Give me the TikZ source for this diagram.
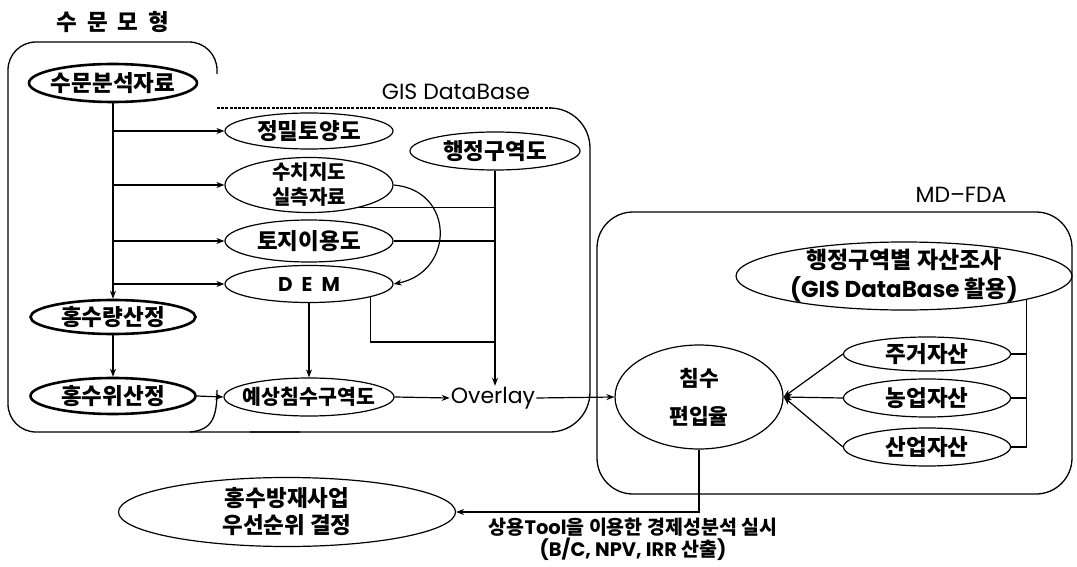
\documentclass[tikz,border=0pt]{standalone}
\usepackage{fontspec}
\usetikzlibrary{shapes.geometric,arrows.meta}
\newfontfamily\kr{Noto Sans CJK KR}
\newfontfamily\lat{Poppins}

\tikzset{
  line/.style={line width=1.2pt},
  arr/.style={line width=1.2pt,-{Stealth[length=8pt,width=6pt]}},
  oval/.style={ellipse, draw, line width=1.2pt, inner sep=0pt},
  boldoval/.style={oval, line width=2.6pt},
  frame/.style={line width=1.3pt},
  ktext/.style={font=\kr\bfseries\fontsize{22.5}{26}\selectfont, align=center, inner sep=0pt},
  ltext/.style={font=\lat\fontsize{22}{26}\selectfont, inner sep=1pt},
}

\begin{document}
\begin{tikzpicture}[x=1pt,y=-1pt]
\useasboundingbox (0,0) rectangle (1077,567);
\fill[white] (0,0) rectangle (1077,567);

% group frames
\draw[frame, rounded corners=28] (217,74) -- (217,42) -- (8,42) -- (8,432) -- (300,432);
\draw[line width=1.6pt, dash pattern=on 3pt off 1.2pt] (217,108) -- (551,108);
\draw[frame, rounded corners=40] (550,108) -- (590,108) -- (590,432) -- (250,432);
\draw[frame] (217,390) .. controls (217,418) and (212,430) .. (190,432);
\draw[frame, rounded corners=36] (597,212) rectangle (1072,494);

% group titles
\node[ktext] (title) at (113,22) {수\hspace{10pt}문\hspace{10pt}모\hspace{10pt}형};
\node[ltext] (gisT) at (456,92) {GIS DataBase};
\node[ltext] (mdT) at (961,195) {MD–FDA};

% hydrology model
\node[boldoval, minimum width=168pt, minimum height=38pt, label={[ktext]center:{수문분석자료}}] (hyd) at (113,83) {};
\node[boldoval, minimum width=165pt, minimum height=34pt, label={[ktext]center:{홍수량산정}}] (flow) at (113,317) {};
\node[boldoval, minimum width=165pt, minimum height=36pt, label={[ktext]center:{홍수위산정}}] (stage) at (113,396) {};

% GIS database layers
\node[oval, minimum width=168pt, minimum height=36pt, label={[ktext]center:{정밀토양도}}] (soil) at (309,131) {};
\node[oval, minimum width=168pt, minimum height=55pt, label={[ktext, font=\kr\bfseries\fontsize{20}{25}\selectfont]center:{수치지도\\실측자료}}] (dmap) at (309,185) {};
\node[oval, minimum width=168pt, minimum height=42pt, label={[ktext]center:{토지이용도}}] (land) at (309,241) {};
\node[oval, minimum width=168pt, minimum height=37pt, label={[ktext, font=\lat\bfseries\fontsize{20}{24}\selectfont]center:{D\hspace{9pt}E\hspace{9pt}M}}] (dem) at (309,284) {};
\node[oval, minimum width=170pt, minimum height=38pt, label={[ktext]center:{행정구역도}}] (admin) at (495,151) {};
\node[oval, minimum width=170pt, minimum height=38pt, label={[ktext, font=\kr\bfseries\fontsize{20.5}{24}\selectfont]center:{예상침수구역도}}] (inund) at (309,397) {};
\node[ltext] (overlay) at (493,398) {Overlay};

% MD-FDA
\node[oval, minimum width=168pt, minimum height=104pt, label={[ktext, font=\kr\bfseries\fontsize{21.5}{38}\selectfont]center:{침수\\편입율}}] (rate) at (699,397) {};
\node[oval, minimum width=336pt, minimum height=68pt, label={[ktext, font=\kr\bfseries\fontsize{23}{29}\selectfont]center:{행정구역별 자산조사\\{\lat(GIS DataBase }활용{\lat)}}}] (survey) at (904,276) {};
\node[oval, minimum width=167pt, minimum height=34pt, label={[ktext]center:{주거자산}}] (res) at (927,354) {};
\node[oval, minimum width=167pt, minimum height=38pt, label={[ktext]center:{농업자산}}] (agr) at (927,398) {};
\node[oval, minimum width=167pt, minimum height=38pt, label={[ktext]center:{산업자산}}] (ind) at (927,447) {};

% result
\node[oval, minimum width=337pt, minimum height=69pt, label={[ktext, font=\kr\bfseries\fontsize{22.5}{27}\selectfont]center:{홍수방재사업\\우선순위 결정}}] (prio) at (287,512) {};
\node[ktext, font=\kr\bfseries\fontsize{19.5}{22}\selectfont] (econ) at (633,539) {상용{\lat Tool}을 이용한 경제성분석 실시\\{\lat (B/C, NPV, IRR }산출{\lat )}};

% hydrology flow
\draw[arr] (hyd.south) -- (flow.north);
\foreach \n in {soil,dmap,land,dem}
  \draw[arr] (hyd.south |- \n.west) -- (\n.west);
\draw[arr] (flow.south) -- (stage.north);
\draw[arr] (stage.east) -- (inund.west);
\draw[arr] (dem.south) -- (inund.north);
\draw[arr] (inund.east) -- (overlay.west);
\draw[arr] (dmap.east) .. controls (455,190) and (455,272) .. (dem.east);

% layers into overlay
\coordinate (demjoin) at (495,342);
\draw[arr] (admin.south) -- (admin.south |- overlay.north);
\draw[line] (dmap.-25) -- (dmap.-25 -| admin.south);
\draw[line] (land.east) -- (land.east -| admin.south);
\draw[line] (dem.-12.6) |- (demjoin);
\draw[arr] (overlay.east) -- (rate.west);

% asset survey
\draw[line] (survey.-11.6) |- (ind.east);
\draw[line] (res.east) -- (res.east -| survey.-11.6);
\draw[line] (agr.east) -- (agr.east -| survey.-11.6);
\foreach \n in {res,agr,ind}
  \draw[arr] (\n.west) -- (rate.east);

% economic analysis
\draw[arr] (rate.south) |- (prio.east);
\end{tikzpicture}
\end{document}
